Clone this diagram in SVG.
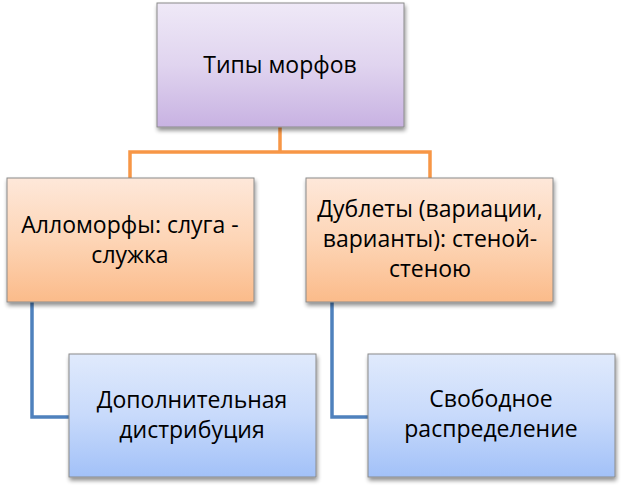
<svg xmlns="http://www.w3.org/2000/svg" width="624" height="489" viewBox="0 0 624 489">
<defs>
<linearGradient id="gPurple" x1="0" y1="0" x2="0" y2="1">
<stop offset="0" stop-color="#efe9f7"/><stop offset="0.5" stop-color="#e0d4ef"/><stop offset="1" stop-color="#c8b2e2"/>
</linearGradient>
<linearGradient id="gOrange" x1="0" y1="0" x2="0" y2="1">
<stop offset="0" stop-color="#fee8da"/><stop offset="0.5" stop-color="#fdd5b6"/><stop offset="1" stop-color="#fbbb8a"/>
</linearGradient>
<linearGradient id="gBlue" x1="0" y1="0" x2="0" y2="1">
<stop offset="0" stop-color="#e0eafc"/><stop offset="0.5" stop-color="#c8dafb"/><stop offset="1" stop-color="#a2c1f8"/>
</linearGradient>
<filter id="sh" x="-10%" y="-10%" width="125%" height="130%">
<feGaussianBlur in="SourceAlpha" stdDeviation="2"/>
<feOffset dx="1" dy="3" result="b"/>
<feComponentTransfer><feFuncA type="linear" slope="0.45"/></feComponentTransfer>
<feMerge><feMergeNode/><feMergeNode in="SourceGraphic"/></feMerge>
</filter>
</defs>
<style>
.box{stroke:#8a8a8a;stroke-width:1;filter:url(#sh)}
.t{font-family:"Open Sans","Liberation Sans",sans-serif;font-size:23px;fill:#000;text-anchor:middle}
.orange{fill:none;stroke:#f79646;stroke-width:3.5}
.blue{fill:none;stroke:#4f81bd;stroke-width:3.5}
</style>
<g id="connectors">
<path class="orange" d="M280,127 V152 M130,178 V152 H430 V178"/>
<path class="blue" d="M32,302 V417 H69"/>
<path class="blue" d="M332,302 V417 H368"/>
</g>
<g id="n-top">
<rect class="box" x="157" y="3" width="247" height="124" fill="url(#gPurple)"/>
<text class="t" x="280" y="73">Типы морфов</text>
</g>
<g id="n-allo">
<rect class="box" x="7" y="178" width="247" height="124" fill="url(#gOrange)"/>
<text class="t" x="130" y="233">Алломорфы: слуга -</text>
<text class="t" x="130" y="263">служка</text>
</g>
<g id="n-dub">
<rect class="box" x="306" y="178" width="247" height="124" fill="url(#gOrange)"/>
<text class="t" x="430" y="217">Дублеты (вариации,</text>
<text class="t" x="430" y="247">варианты): стеной-</text>
<text class="t" x="430" y="277">стеною</text>
</g>
<g id="n-dop">
<rect class="box" x="69" y="354" width="247" height="123" fill="url(#gBlue)"/>
<text class="t" x="192" y="408">Дополнительная</text>
<text class="t" x="192" y="438">дистрибуция</text>
</g>
<g id="n-svob">
<rect class="box" x="368" y="354" width="247" height="123" fill="url(#gBlue)"/>
<text class="t" x="491" y="407">Свободное</text>
<text class="t" x="491" y="437">распределение</text>
</g>
</svg>
